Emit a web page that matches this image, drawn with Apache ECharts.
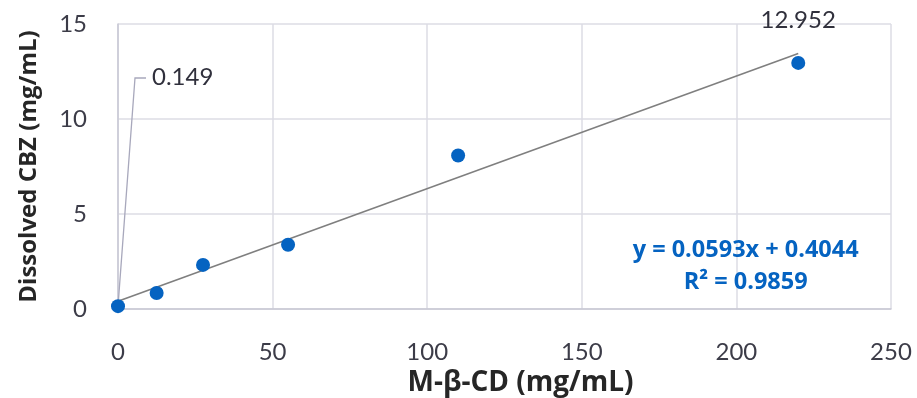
<!DOCTYPE html>
<html>
<head>
<meta charset="utf-8">
<script src="https://cdn.jsdelivr.net/npm/echarts@6/dist/echarts.min.js"></script>
<style>html,body{margin:0;padding:0;background:#fff}#c{width:917px;height:398px}</style>
</head>
<body>
<div id="c"></div>
<script>
const xValues = [0, 12.5, 27.5, 55, 110, 220];
const yValues = [0.149, 0.84, 2.32, 3.38, 8.08, 12.952];
const xTicks = [0, 50, 100, 150, 200, 250];
const yTicks = [0, 5, 10, 15];
const trendSlope = 0.0593;
const trendIntercept = 0.4044;
const equationLines = ['y = 0.0593x + 0.4044', 'R² = 0.9859'];
const labelledIndices = [0, 5];

const FONT = 'Lato';
const BFONT = 'Open Sans';
const chart = echarts.init(document.getElementById('c'), null, {renderer: 'canvas'});
const xEnd = Math.max(...xValues);
const trendData = [[0, trendIntercept], [xEnd, trendSlope * xEnd + trendIntercept]];
const points = xValues.map((x, i) => ({
  value: [x, yValues[i]],
  label: {show: labelledIndices.includes(i)}
}));

const FIRST_LABEL = {x: 152, y: 77};

chart.setOption({
  animation: false,
  grid: {left: 118, right: 26, top: 24, bottom: 89, containLabel: false, outerBoundsMode: 'none'},
  xAxis: {
    type: 'value', min: xTicks[0], max: xTicks[xTicks.length - 1], interval: xTicks[1] - xTicks[0],
    name: 'M-β-CD (mg/mL)', nameLocation: 'middle', nameGap: 50,
    nameTextStyle: {fontFamily: BFONT, fontWeight: 'bold', fontSize: 28, color: '#262626', padding: [0, 0, 0, 32]},
    axisLine: {show: true, lineStyle: {color: '#c8c8d4', width: 1.5}},
    axisTick: {show: false},
    axisLabel: {fontFamily: FONT, fontSize: 24, color: '#3c3c48', margin: 31},
    splitLine: {show: true, lineStyle: {color: '#dcdce4', width: 1.5}}
  },
  yAxis: {
    type: 'value', min: yTicks[0], max: yTicks[yTicks.length - 1], interval: yTicks[1] - yTicks[0],
    name: 'Dissolved CBZ (mg/mL)', nameLocation: 'middle', nameGap: 77,
    nameTextStyle: {fontFamily: BFONT, fontWeight: 'bold', fontSize: 24, color: '#262626'},
    axisLine: {show: true, lineStyle: {color: '#c8c8d4', width: 1.5}},
    axisTick: {show: false},
    axisLabel: {fontFamily: FONT, fontSize: 24, color: '#3c3c48', margin: 31},
    splitLine: {show: true, lineStyle: {color: '#dcdce4', width: 1.5}}
  },
  series: [
    {
      type: 'line', data: trendData, symbol: 'none', silent: true,
      lineStyle: {color: '#7f7f7f', width: 1.6}, z: 2
    },
    {
      type: 'scatter', data: points, symbolSize: 14, z: 3,
      itemStyle: {color: '#0563c1', opacity: 1},
      label: {
        show: false, position: 'top', distance: 24,
        fontFamily: FONT, fontSize: 24, color: '#30303c',
        formatter: p => String(yValues[p.dataIndex])
      },
      labelLayout: p => {
        if (p.dataIndex === 0) return {x: FIRST_LABEL.x, y: FIRST_LABEL.y, align: 'left', verticalAlign: 'middle'};
        return {};
      }
    }
  ]
});

const p0 = chart.convertToPixel({gridIndex: 0}, [xValues[0], yValues[0]]);
const eqAnchor = chart.convertToPixel({gridIndex: 0}, [203, 3.23]);
chart.setOption({
  graphic: [
    {
      type: 'polyline', z: 1, silent: true,
      shape: {points: [p0, [FIRST_LABEL.x - 17, FIRST_LABEL.y + 1], [FIRST_LABEL.x - 6, FIRST_LABEL.y + 1]]},
      style: {stroke: '#a8a8bc', lineWidth: 1.3, fill: null}
    },
    {
      type: 'text', x: eqAnchor[0], y: eqAnchor[1] + 3,
      style: {text: equationLines[0], fontFamily: BFONT, fontWeight: 'bold', fontSize: 23.5,
        fill: '#0563c1', align: 'center', verticalAlign: 'middle'}
    },
    {
      type: 'text', x: eqAnchor[0], y: eqAnchor[1] + 35,
      style: {text: equationLines[1], fontFamily: BFONT, fontWeight: 'bold', fontSize: 23.5,
        fill: '#0563c1', align: 'center', verticalAlign: 'middle'}
    }
  ]
});
</script>
</body>
</html>
